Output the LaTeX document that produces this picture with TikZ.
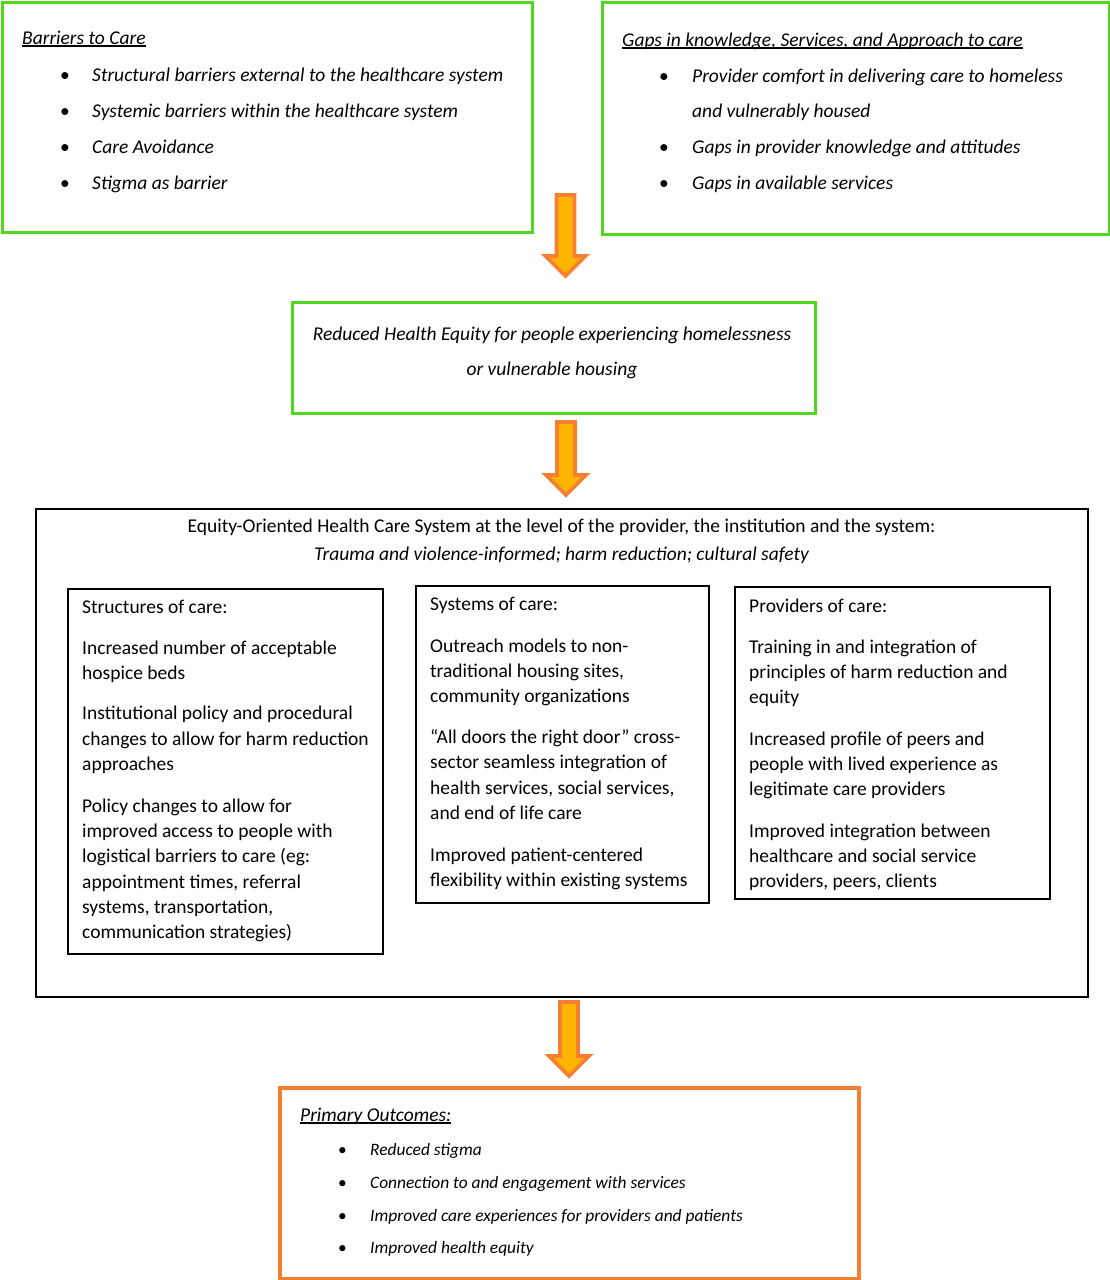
\documentclass[tikz,border=0pt]{standalone}
\usepackage{fontspec}
\setmainfont{Carlito}
\definecolor{grn}{RGB}{80,215,30}
\definecolor{org}{RGB}{245,128,50}
\definecolor{gold}{RGB}{255,180,0}
\newcommand\ulx[1]{\setbox0\hbox{#1}\rlap{\rule[-2.6pt]{\wd0}{1.3pt}}\box0}
\newcommand\blockarrow[3]{%
  \filldraw[draw=org, fill=gold, line width=3.8pt, line join=miter]
    (#1-9,#2) -- (#1+9,#2) -- (#1+9,#3-20) -- (#1+20,#3-20) -- (#1,#3)
    -- (#1-20,#3-20) -- (#1-9,#3-20) -- cycle;}
\begin{document}
\begin{tikzpicture}[x=1pt,y=-1pt,
  gbox/.style={draw=grn,line width=3pt,anchor=north west,inner sep=0pt},
  kbox/.style={draw=black,line width=1.7pt,anchor=north west,inner sep=0pt},
  obox/.style={draw=org,line width=3.5pt,anchor=north west,inner sep=0pt},
  txt/.style={inner sep=0pt,anchor=base west,font=\fontsize{19.5}{25.3}\selectfont},
  itx/.style={txt,font=\fontsize{19.5}{25.3}\selectfont\itshape},
  ctx/.style={txt,anchor=base},
  sitx/.style={txt,font=\fontsize{17.4}{22}\selectfont\itshape}]
\useasboundingbox (0,0) rectangle (1110,1280);
\fill[white] (0,0) rectangle (1110,1280);

% boxes
\node[gbox,minimum width=530pt,minimum height=230pt] (bar) at (1,1) {};
\node[gbox,minimum width=507pt,minimum height=232pt] (gap) at (601,1) {};
\node[gbox,minimum width=523pt,minimum height=111pt] (red) at (291,301) {};
\node[kbox,minimum width=1052pt,minimum height=488pt] (eq) at (35,508) {};
\node[kbox,minimum width=315pt,minimum height=365pt] (st) at (67,588) {};
\node[kbox,minimum width=293pt,minimum height=317pt] (sy) at (415,585) {};
\node[kbox,minimum width=315pt,minimum height=312pt] (pr) at (734,586) {};
\node[obox,minimum width=579pt,minimum height=191pt] (po) at (278,1086) {};

% arrows
\blockarrow{565.5}{195}{276}
\blockarrow{566}{422}{495}
\blockarrow{569}{1002}{1076}

% Barriers to care
\node[itx] (bart) at (22,44) {\ulx{Barriers to Care}};
\foreach \t/\yy [count=\i] in {Structural barriers external to the healthcare system/81,
  Systemic barriers within the healthcare system/117,
  Care Avoidance/153, Stigma as barrier/189}
  {\node[txt] (barb\i) at (60,\yy) {•};
   \node[itx] (bar\i) at (92,\yy) {\t};}

% Gaps
\node[itx] (gapt) at (622,46) {\ulx{Gaps in knowledge, Services, and Approach to care}};
\foreach \yy [count=\i] in {82,153,189}
  {\node[txt] (gapb\i) at (659,\yy) {•};}
\foreach \t/\yy [count=\i] in {Provider comfort in delivering care to homeless/82,
  and vulnerably housed/117, Gaps in provider knowledge and attitudes/153,
  Gaps in available services/189}
  {\node[itx] (gap\i) at (692,\yy) {\t};}

% Reduced health equity
\node[itx,anchor=base] (red1) at (552,340) {Reduced Health Equity for people experiencing homelessness};
\node[itx,anchor=base] (red2) at (552,375) {or vulnerable housing};

% Equity-oriented
\node[ctx] (eq1) at (561.5,532) {Equity-Oriented Health Care System at the level of the provider, the institution and the system:};
\node[itx,anchor=base] (eq2) at (561.5,560) {Trauma and violence-informed; harm reduction; cultural safety};

% Structures
\foreach \t/\yy [count=\i] in {Structures of care:/613, Increased number of acceptable/654,
  hospice beds/679, Institutional policy and procedural/719,
  changes to allow for harm reduction/745, approaches/770,
  Policy changes to allow for/812, improved access to people with/837,
  logistical barriers to care (eg:/862, {appointment times, referral}/888,
  {systems, transportation,}/913, communication strategies)/938}
  {\node[txt] (st\i) at (82,\yy) {\t};}

% Systems
\foreach \t/\yy [count=\i] in {Systems of care:/610, Outreach models to non-/652,
  {traditional housing sites,}/677, community organizations/702,
  “All doors the right door” cross-/743, sector seamless integration of/768,
  {health services, social services,}/794, and end of life care/819,
  Improved patient-centered/861, flexibility within existing systems/886}
  {\node[txt] (sy\i) at (430,\yy) {\t};}

% Providers
\foreach \t/\yy [count=\i] in {Providers of care:/612, Training in and integration of/653,
  principles of harm reduction and/678, equity/703,
  Increased profile of peers and/745, people with lived experience as/770,
  legitimate care providers/795, Improved integration between/837,
  healthcare and social service/862, {providers, peers, clients}/887}
  {\node[txt] (pr\i) at (749,\yy) {\t};}

% Primary outcomes
\node[itx] (pot) at (300,1121) {\ulx{Primary Outcomes:}};
\foreach \t/\yy [count=\i] in {Reduced stigma/1155, Connection to and engagement with services/1188,
  Improved care experiences for providers and patients/1221, Improved health equity/1253}
  {\node[txt,font=\fontsize{17.4}{22}\selectfont] (pob\i) at (338,\yy) {•};
   \node[sitx] (po\i) at (370,\yy) {\t};}
\end{tikzpicture}
\end{document}
